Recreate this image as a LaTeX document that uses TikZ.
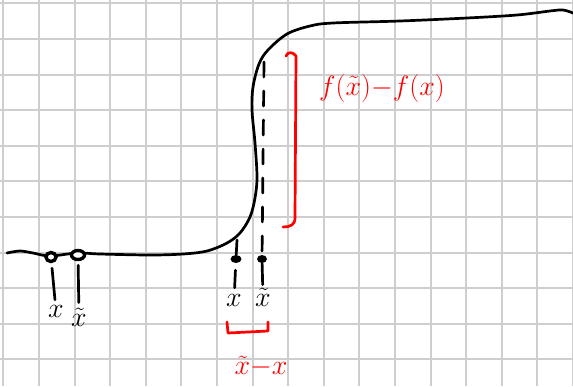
\RequirePackage{fix-cm}
\documentclass[tikz,border=0pt]{standalone}
\usepackage{tikz}
\usetikzlibrary{shapes.geometric}
\definecolor{gridgrey}{RGB}{206,206,206}
\definecolor{inkred}{RGB}{255,0,0}
\tikzset{
  gridline/.style={draw=gridgrey, line width=2pt},
  ink/.style={draw=black, line width=2.7pt, line cap=round, line join=round},
  redink/.style={draw=inkred, line width=2.7pt, line cap=round, line join=round},
  guide/.style={ink, dash pattern=on 15pt off 14pt},
  opendot/.style={ellipse, draw=black, fill=white, line width=3.4pt, inner sep=0pt, minimum width=#1, minimum height=9pt},
  blobdot/.style={ellipse, fill=black, inner sep=0pt, minimum width=#1, minimum height=8pt},
  lbl/.style={font=\fontsize{28}{28}\selectfont, inner sep=0pt, text=black},
  redlbl/.style={lbl, text=inkred},
}

\begin{document}
\begin{tikzpicture}[x=1pt,y=-1pt]
  \useasboundingbox (0,0) rectangle (573,386);
  \fill[white] (0,0) rectangle (573,386);
  % grid paper
  \foreach \i in {0,...,16} \draw[gridline] (3.3+35.6*\i,0) -- (3.3+35.6*\i,386);
  \foreach \j in {0,...,10} \draw[gridline] (0,3.3+35.6*\j) -- (573,3.3+35.6*\j);
  % the step function
  \draw[ink] plot[smooth, tension=0.55] coordinates {
    (7,253) (20,251) (33,253) (50,256) (77,253) (100,254) (150,255) (183,254)
    (207,251) (227,243) (240,233) (250,217) (255,198) (257,177) (255,143)
    (252,110) (253,87) (259,64) (268,50) (287,34) (310,26) (333,23) (400,21)
    (467,18) (517,15) (550,11) (563,10) (573,13)};
  \coordinate (onx) at (237,240);
  \coordinate (onxt) at (264,62);
  % points close together on the flat part
  \node[opendot=10pt] (dotx) at (51,257) {};
  \node[opendot=13pt] (dotxt) at (78,255) {};
  \node[lbl] (labx) at (56,311) {$x$};
  \node[lbl] (labxt) at (79,317) {$\tilde{x}$};
  \draw[ink, shorten <=5pt, shorten >=5pt] (dotx) -- (labx);
  \draw[ink, shorten <=4pt, shorten >=5pt] (dotxt) -- (labxt);
  % points close together across the jump
  \node[blobdot=11pt] (dotxr) at (236,259) {};
  \node[blobdot=10pt] (dotxtr) at (262,259) {};
  \node[lbl] (labxr) at (234,300) {$x$};
  \node[lbl] (labxtr) at (263,297) {$\tilde{x}$};
  \draw[ink, shorten <=7pt, shorten >=6pt] (dotxr) -- (labxr);
  \draw[ink, shorten >=3pt] (dotxtr) -- (labxtr);
  \draw[guide] (onx) -- (dotxr);
  \draw[guide] (onxt) -- (dotxtr);
  % differences
  \draw[redink] (286,56) .. controls (288,51) and (293,52) .. (296,56) -- (295,218)
    .. controls (295,225) and (290,227) .. (283,227);
  \draw[redink] (227,322) -- (228,333) -- (268,331) -- (268,322);
  \node[redlbl] (labdf) at (382,88) {$f(\tilde{x}){-}f(x)$};
  \node[redlbl] (labdx) at (261,366) {$\tilde{x}{-}x$};
\end{tikzpicture}
\end{document}
